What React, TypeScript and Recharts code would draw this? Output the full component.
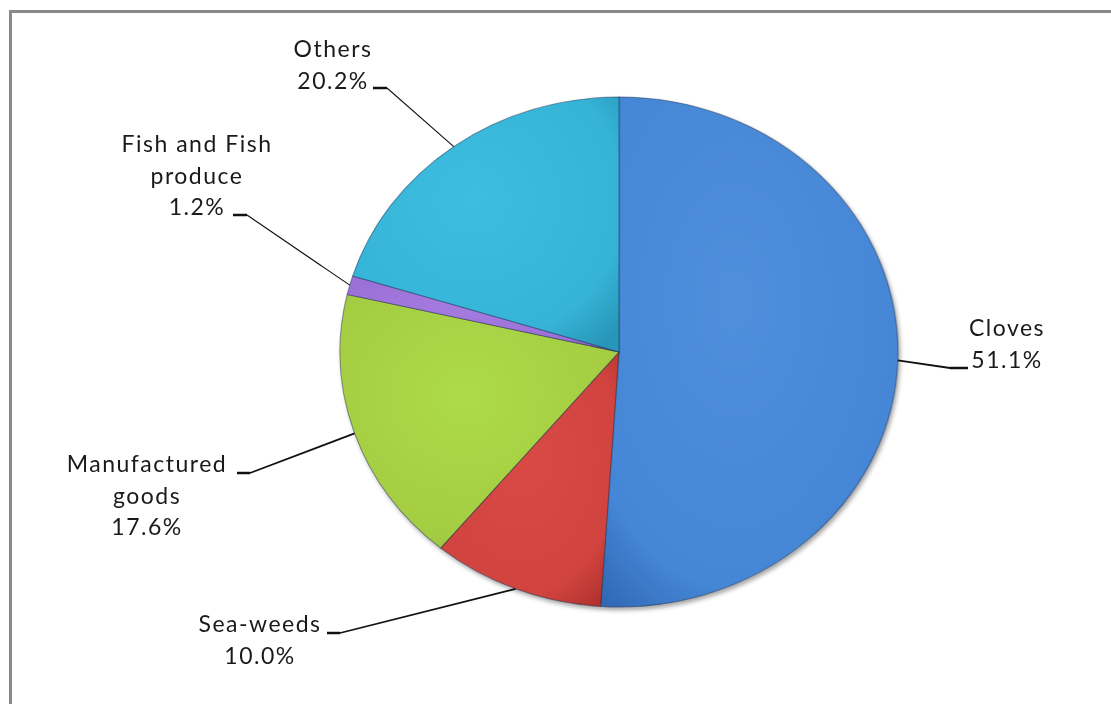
import React from 'react';
import { PieChart, Pie, Cell } from 'recharts';

// Export shares, clockwise from 12 o'clock
const categories = ['Cloves', 'Sea-weeds', 'Manufactured\ngoods', 'Fish and Fish\nproduce', 'Others'];
const shares = [51.1, 10.0, 17.6, 1.2, 20.2];

const colors = [
  ['#4f8fdc', '#4586d6', '#2f66b2'],
  ['#d94a45', '#d0433e', '#ad302c'],
  ['#addb48', '#a4cc42', '#88aa33'],
  ['#a57ce0', '#9a6fd6', '#7d55b8'],
  ['#3dbde0', '#36b4d8', '#2796b8'],
];

const data = categories.map((name, i) => ({ name, value: shares[i] }));

const W = 1111;
const H = 704;
const CX = 619;
const CY = 352;
const R = 255;
const SX = 279 / 255; // excel draws the pie as a slightly wide ellipse

// label placement, relative to pie centre
const labelLayout: Record<string, { tx: number; ty: number; sy: number; s0: number; s1: number; w: number }> = {
  Cloves: { tx: 388, ty: -16, sy: 16, s0: 349, s1: 331, w: 1.8 },
  'Sea-weeds': { tx: -359, ty: 280, sy: 281, s0: -292, s1: -279, w: 1.8 },
  'Manufactured\ngoods': { tx: -472, ty: 120, sy: 121, s0: -382, s1: -369, w: 1.8 },
  'Fish and Fish\nproduce': { tx: -422, ty: -200, sy: -137, s0: -386, s1: -372, w: 1.1 },
  Others: { tx: -286, ty: -295, sy: -264, s0: -246, s1: -232, w: 1.1 },
};

const RAD = Math.PI / 180;

const renderLabel = (props: any) => {
  const { cx, cy, midAngle, outerRadius, name, value } = props;
  const lay = labelLayout[name];
  if (!lay) return null;
  const ex = cx + outerRadius * SX * Math.cos(midAngle * RAD);
  const ey = cy - outerRadius * Math.sin(midAngle * RAD);
  const lines = [...String(name).split('\n'), `${Number(value).toFixed(1)}%`];
  return (
    <g>
      <line x1={cx + lay.s0} y1={cy + lay.sy} x2={cx + lay.s1} y2={cy + lay.sy} stroke="#111" strokeWidth={2.5} />
      <line x1={cx + lay.s1} y1={cy + lay.sy} x2={ex} y2={ey} stroke="#111" strokeWidth={lay.w} />
      <text
        x={cx + lay.tx}
        y={cy + lay.ty}
        textAnchor="middle"
        fill="#1a1a1a"
        style={{ fontFamily: 'Lato, sans-serif', fontSize: 23, letterSpacing: 1.5 }}
      >
        {lines.map((l, i) => (
          <tspan key={i} x={cx + lay.tx} dy={i === 0 ? 0 : 31.5}>
            {l}
          </tspan>
        ))}
      </text>
    </g>
  );
};

export default function App() {
  return (
    <div style={{ position: 'fixed', left: 0, top: 0, width: W, height: H, overflow: 'hidden', background: '#fff' }}>
      <style>{`
        .recharts-pie-sector {
          transform-origin: ${CX}px ${CY}px;
          transform: scaleX(${SX});
        }
        .recharts-pie-sectors, .recharts-pie > .recharts-layer:first-child {
          filter: drop-shadow(2px 3px 2px rgba(0,0,0,0.35));
        }
      `}</style>
      <div
        style={{
          position: 'absolute',
          left: 9,
          top: 10,
          width: W,
          height: H,
          borderTop: '3px solid #8a8a8a',
          borderLeft: '3px solid #8a8a8a',
        }}
      />
      <div style={{ position: 'absolute', left: 0, top: 0 }}>
        <PieChart width={W} height={H} margin={{ top: 0, right: 0, bottom: 0, left: 0 }}>
          <defs>
            {colors.map((c, i) => (
              <radialGradient key={i} id={`slice${i}`} cx="45%" cy="40%" r="75%">
                <stop offset="0%" stopColor={c[0]} />
                <stop offset="75%" stopColor={c[1]} />
                <stop offset="100%" stopColor={c[2]} />
              </radialGradient>
            ))}
          </defs>
          <Pie
            data={data}
            dataKey="value"
            nameKey="name"
            cx={CX}
            cy={CY}
            outerRadius={R}
            startAngle={90}
            endAngle={-270}
            stroke="rgba(20,40,70,0.45)"
            strokeWidth={1}
            label={renderLabel}
            labelLine={false}
            isAnimationActive={false}
          >
            {data.map((d, i) => (
              <Cell key={d.name} fill={`url(#slice${i})`} />
            ))}
          </Pie>
        </PieChart>
      </div>
    </div>
  );
}
